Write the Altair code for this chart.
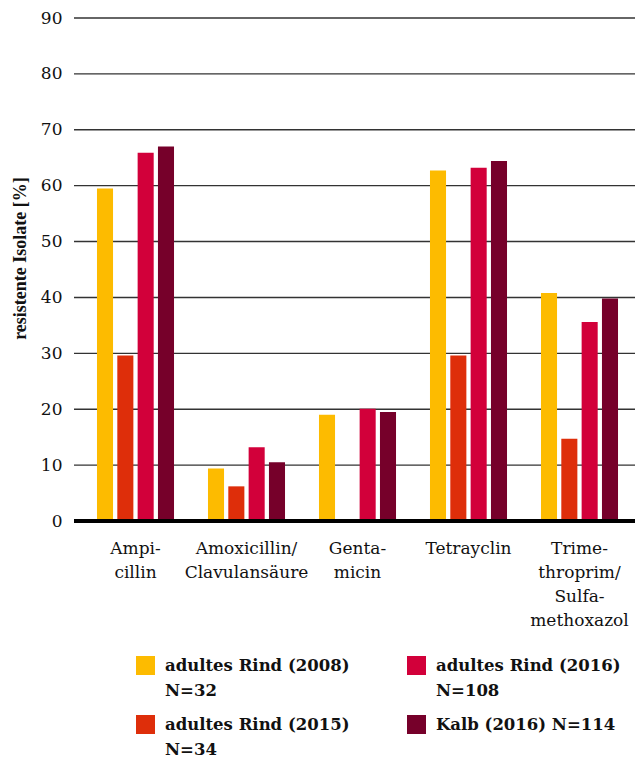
import altair as alt
import pandas as pd

antibiotics = ["Ampi-|cillin", "Amoxicillin/|Clavulansäure", "Genta-|micin",
               "Tetrayclin", "Trime-|throprim/|Sulfa-|methoxazol"]
groups = ["adultes Rind (2008)|N=32", "adultes Rind (2015)|N=34",
          "adultes Rind (2016)|N=108", "Kalb (2016) N=114"]
colors = ["#FDBB00", "#DE2E0A", "#D2003A", "#76002A"]
y_ticks = [0, 10, 20, 30, 40, 50, 60, 70, 80, 90]

v2008 = [59.5, 9.4, 19.0, 62.7, 40.8]
v2015 = [29.6, 6.2, None, 29.6, 14.7]
v2016 = [65.9, 13.2, 20.1, 63.2, 35.6]
vkalb = [67.0, 10.5, 19.5, 64.4, 39.8]

rows = []
for g, vals in zip(groups, [v2008, v2015, v2016, vkalb]):
    for a, v in zip(antibiotics, vals):
        if v is not None:
            rows.append({"antibiotic": a, "group": g, "value": v})
df = pd.DataFrame(rows)

FONT = "DejaVu Serif"
TFONT = "Liberation Serif"
W, H = 555, 503

yscale = alt.Scale(domain=[0, 90])

grid = alt.Chart(pd.DataFrame({"y": y_ticks[1:]})).mark_rule(
    color="#333", strokeWidth=1.4).encode(
    y=alt.Y("y:Q", scale=yscale), x=alt.value(-6), x2=alt.value(W))

bars = alt.Chart(df).mark_bar().encode(
    x=alt.X("antibiotic:N", sort=antibiotics,
            scale=alt.Scale(paddingInner=0.306, paddingOuter=0.153),
            axis=alt.Axis(title=None, labelExpr="split(datum.label, '|')",
                          labelAngle=0, ticks=False, domain=False,
                          labelFont=FONT, labelFontSize=17, labelColor="#111",
                          labelPadding=19, labelLineHeight=24)),
    xOffset=alt.XOffset("group:N", sort=groups, scale=alt.Scale(paddingInner=0.21)),
    y=alt.Y("value:Q", scale=yscale,
            axis=alt.Axis(values=y_ticks,
                          title="resistente Isolate [%]",
                          titleFont=TFONT, titleFontSize=18, titleFontWeight="bold",
                          titleColor="#111", titleX=-60, titleY=240,
                          titleAngle=-90, titleAlign="center", titleBaseline="middle",
                          grid=False, domain=False, ticks=False,
                          labelFont=FONT, labelFontSize=17, labelColor="#111",
                          labelPadding=18)),
    color=alt.Color("group:N",
                    scale=alt.Scale(domain=groups, range=colors),
                    legend=alt.Legend(title=None, orient="none", legendX=56, legendY=638,
                                      columns=2, symbolType="square", symbolSize=361,
                                      symbolStrokeWidth=0,
                                      labelExpr="split(datum.label, '|')",
                                      labelFont=FONT, labelFontSize=16.5,
                                      labelFontWeight="bold", labelColor="#111",
                                      labelOffset=10, columnPadding=57, rowPadding=16,
                                      labelLimit=300, padding=0)),
)

zero = alt.Chart(pd.DataFrame({"y": [0]})).mark_rule(color="black", strokeWidth=4).encode(
    y=alt.Y("y:Q", scale=yscale), x=alt.value(-6), x2=alt.value(W))

chart = alt.layer(grid, bars, zero).properties(
    width=W, height=H,
    padding={"left": 72, "top": 10, "right": 0, "bottom": 237},
    autosize=alt.AutoSizeParams(type="none"),
).configure(
    view={"stroke": None},
    style={"guide-label": {"lineHeight": 25}},
)

chart.save("out.html", embed_options={"renderer": "svg", "actions": False})
